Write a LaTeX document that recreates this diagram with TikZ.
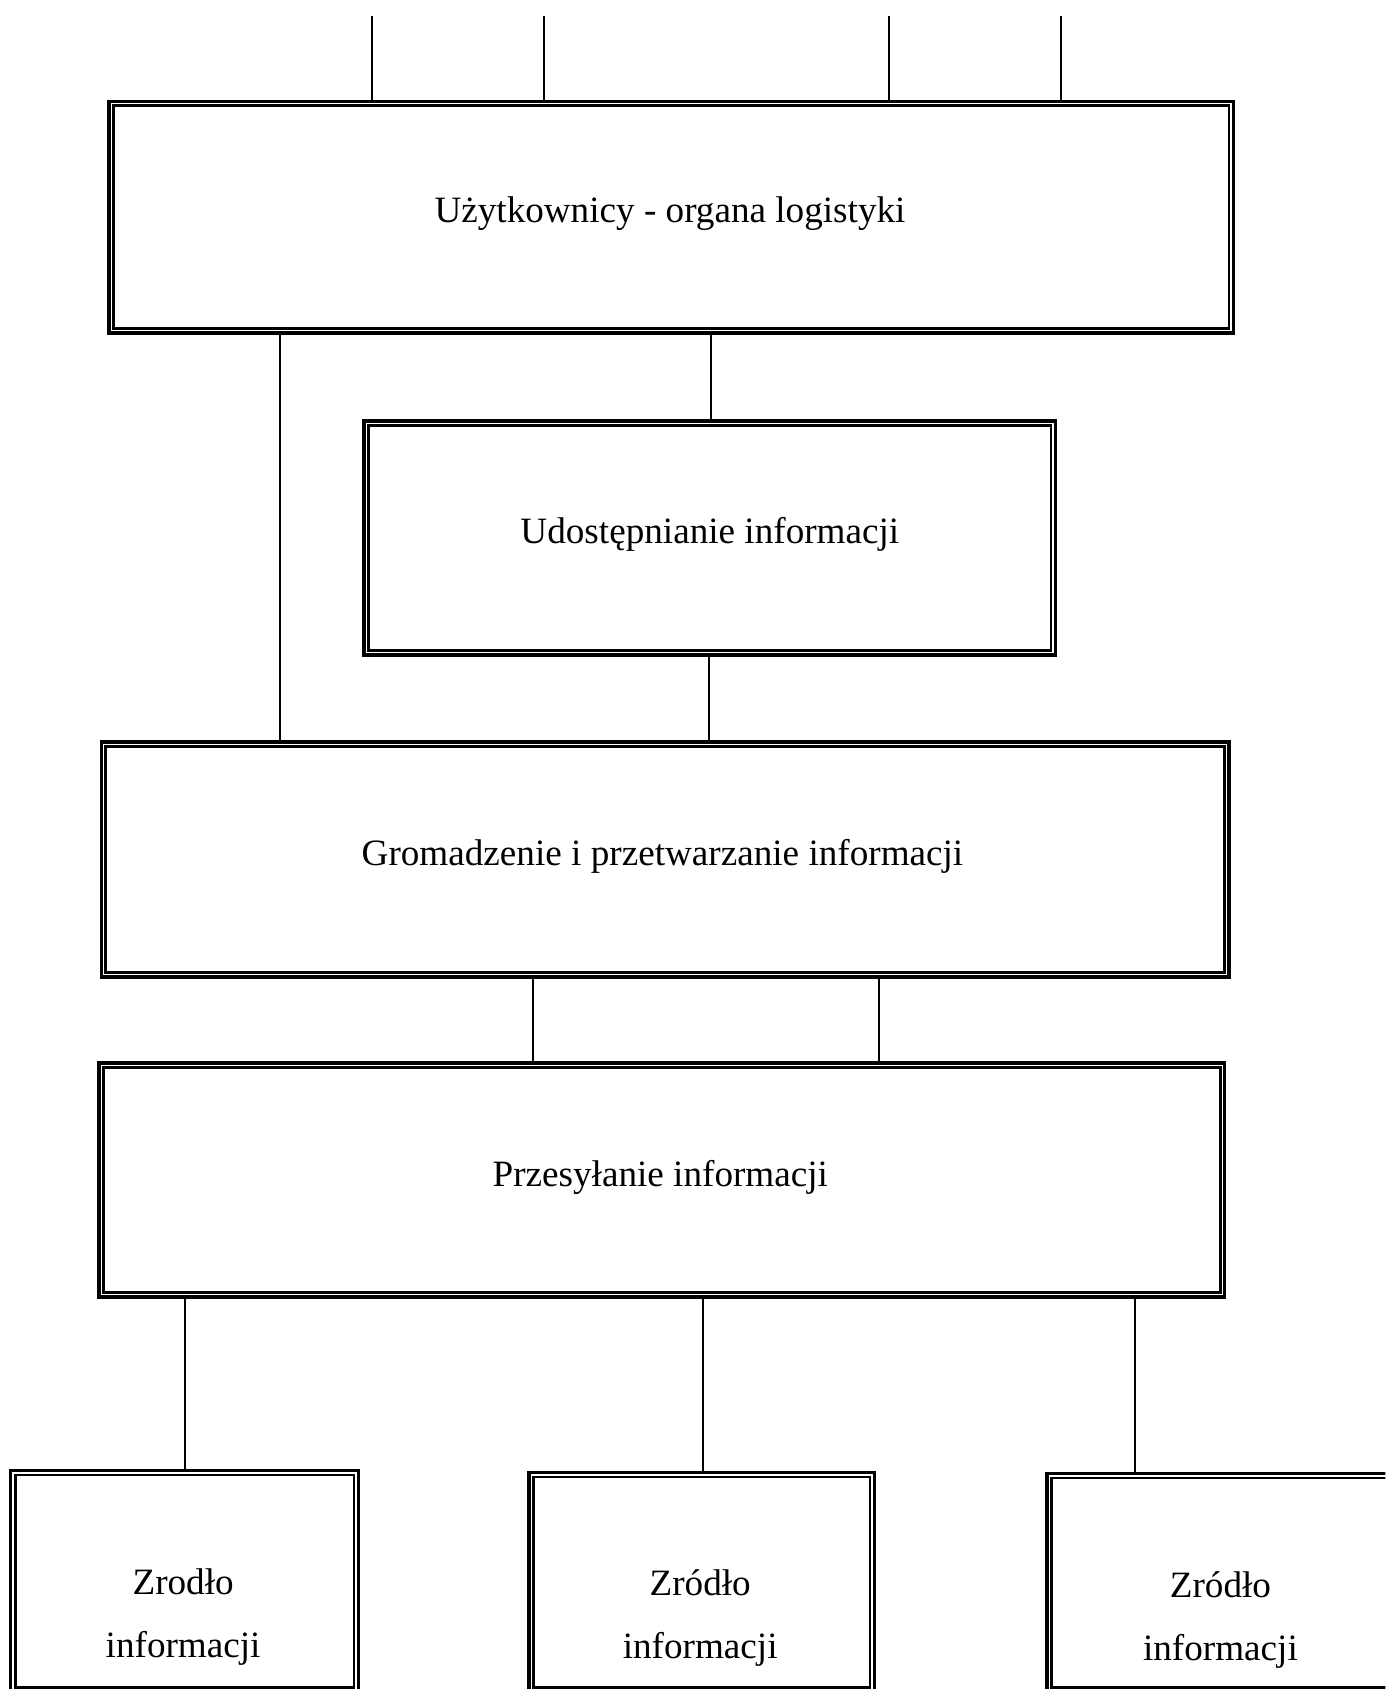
\documentclass[tikz,border=0pt]{standalone}
\usepackage{fontspec}
\setmainfont{Liberation Serif}
\begin{document}
\begin{tikzpicture}[x=0.5pt,y=-0.5pt,
  box/.style={draw, line width=1.6pt, rectangle, inner sep=0pt},
  frame/.style={line width=1.2pt},
  link/.style={line width=1pt},
  lbl/.style={font=\fontsize{17.25}{29.5}\selectfont, inner sep=0pt},
  oneline/.style={lbl, text height=0.69em, text depth=0.22em},
  twoline/.style={lbl, align=center}]
\useasboundingbox (0,0) rectangle (1286,1568);
\clip (0,0) rectangle (1286,1568);

% double-framed boxes
\node[box, minimum width=522pt,   minimum height=107.5pt] (b1) at (623,201.5) {};
\node[box, minimum width=321pt,   minimum height=108.5pt] (b2) at (659,499.5) {};
\node[box, minimum width=523.5pt, minimum height=109pt]   (b3) at (617.5,798) {};
\node[box, minimum width=522.5pt, minimum height=108.5pt] (b4) at (614.5,1095.5) {};
\node[box, minimum width=161.5pt, minimum height=103pt]   (b5) at (171.5,1468) {};
\node[box, minimum width=160.5pt, minimum height=102pt]   (b6) at (651.5,1469) {};
\node[box, minimum width=161.5pt, minimum height=101.5pt] (b7) at (1133.5,1469.5) {};
\foreach \n in {b1,b2,b3,b4,b5,b6,b7}
  \draw[frame] ([shift={(2.9pt,-2.9pt)}]\n.north west)
     rectangle ([shift={(-2.9pt,2.9pt)}]\n.south east);

% labels
\node[oneline] (t1) at (622,202) {Użytkownicy - organa logistyki};
\node[oneline] (t2) at (659,500) {Udostępnianie informacji};
\node[oneline] (t3) at (615,799) {Gromadzenie i przetwarzanie informacji};
\node[oneline] (t4) at (613,1097) {Przesyłanie informacji};
\node[twoline] (t5) at (170,1501) {Zrodło\\informacji};
\node[twoline] (t6) at (650,1502) {Zródło\\informacji};
\node[twoline] (t7) at (1133,1504) {Zródło\\informacji};

% free ends of the incoming lines and guide positions
\coordinate (u1) at (345,15);
\coordinate (u2) at (505,15);
\coordinate (u3) at (825,15);
\coordinate (u4) at (985,15);
\coordinate (g1) at (260,0);
\coordinate (g2) at (660,0);
\coordinate (g3) at (658,0);
\coordinate (g4) at (495,0);
\coordinate (g5) at (816,0);
\coordinate (g6) at (653,0);
\coordinate (g7) at (1054,0);

% connectors
\foreach \u in {u1,u2,u3,u4}
  \draw[link] (\u) -- (\u |- b1.north);
\draw[link] (b1.south -| g1) -- (b3.north -| g1);
\draw[link] (b1.south -| g2) -- (b2.north -| g2);
\draw[link] (b2.south -| g3) -- (b3.north -| g3);
\draw[link] (b3.south -| g4) -- (b4.north -| g4);
\draw[link] (b3.south -| g5) -- (b4.north -| g5);
\draw[link] (b4.south -| b5.north) -- (b5.north);
\draw[link] (b4.south -| g6) -- (b6.north -| g6);
\draw[link] (b4.south -| g7) -- (b7.north -| g7);
\end{tikzpicture}
\end{document}
